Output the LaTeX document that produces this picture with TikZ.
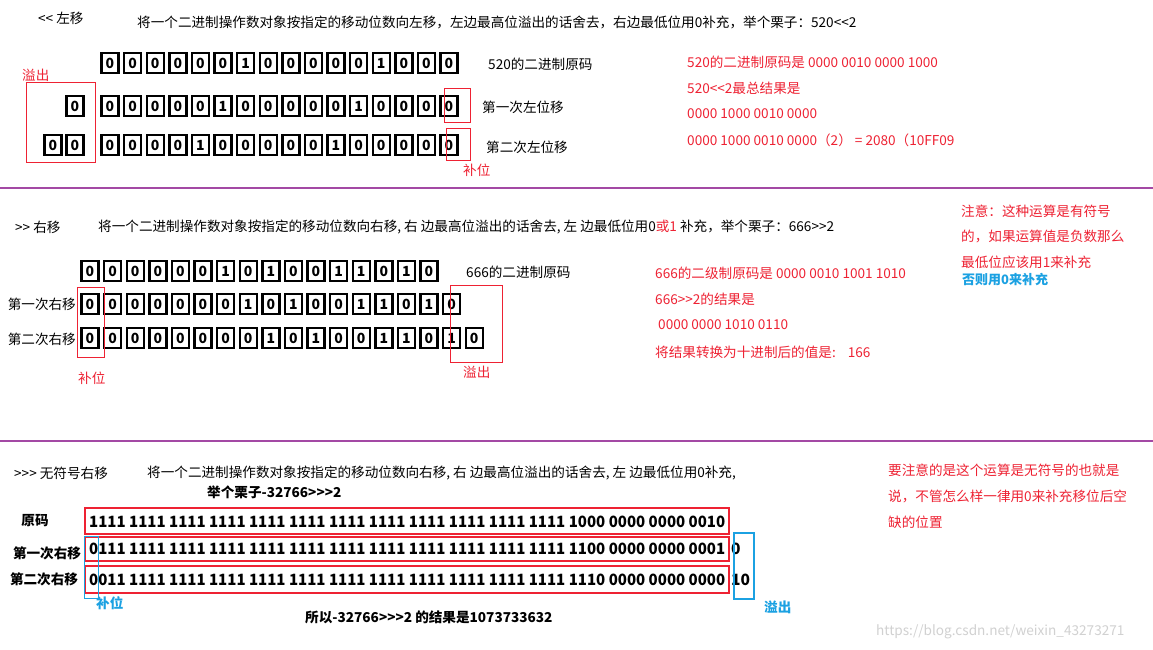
\documentclass[tikz,border=0pt]{standalone}
\usepackage{fontspec}
\setmainfont{Noto Sans CJK SC}
\definecolor{rd}{HTML}{EE2233}
\definecolor{bl}{HTML}{1BA1E2}
\definecolor{pu}{HTML}{A349A4}
\begin{document}
\begin{tikzpicture}[x=1pt,y=-1pt,
  every node/.style={inner sep=0pt,font=\fontsize{13.6}{15}\selectfont},
  bit/.style={draw,line width=2.4pt,minimum width=17pt,minimum height=20pt,font=\fontsize{14}{15}\selectfont\bfseries},
  lab/.style={anchor=west},
  rlab/.style={anchor=west,text=rd},
  rbox/.style={draw=rd,line width=0.8pt},
  bbox/.style={draw=rd,line width=2.2pt},
  sep/.style={draw=pu,line width=2pt}]
\useasboundingbox (0,0) rectangle (1153,650);
\fill[white] (0,0) rectangle (1153,650);
% ---------- section 1
\node[lab] (h1) at (38,18) {<{}< 左移};
\node[lab] (d1) at (137,22) {将一个二进制操作数对象按指定的移动位数向左移，左边最高位溢出的话舍去，右边最低位用0补充，举个栗子：520<{}<2};
\foreach \b [count=\i] in {0,0,0,0,0,0,1,0,0,0,0,0,1,0,0,0}
  \node[bit] (a\i) at ({110+(\i-1)*22.6},63) {\b};
\foreach \b [count=\i] in {0,0,0,0,0,1,0,0,0,0,0,1,0,0,0,0}
  \node[bit] (b\i) at ({110+(\i-1)*22.6},106) {\b};
\node[bit] (bo1) at (75,106) {0};
\foreach \b [count=\i] in {0,0,0,0,1,0,0,0,0,0,1,0,0,0,0,0}
  \node[bit] (c\i) at ({110+(\i-1)*22.6},145) {\b};
\node[bit] (co1) at (53,145) {0};
\node[bit] (co2) at (75,145) {0};
\node[lab] (t1) at (488,64) {520的二进制原码};
\node[lab] (t2) at (482,107) {第一次左位移};
\node[lab] (t3) at (486,147) {第二次左位移};
\draw[rbox] (26,82) rectangle (95,162);
\node[rlab] (o1) at (22,75) {溢出};
\draw[rbox] (444,88) rectangle (470,122);
\draw[rbox] (446,128) rectangle (470,160);
\node[rlab] (p1) at (463,170) {补位};
\node[rlab] (r11) at (687,62) {520的二进制原码是 0000 0010 0000 1000};
\node[rlab] (r12) at (687,88) {520<{}<2最总结果是};
\node[rlab] (r13) at (687,114) {0000 1000 0010 0000};
\node[rlab] (r14) at (687,140) {0000 1000 0010 0000（2） = 2080（10FF09};
\draw[sep] (0,188) -- (1153,188);
% ---------- section 2
\node[lab] (h2) at (15,227) {>{}> 右移};
\node[lab] (d2) at (98,227) {将一个二进制操作数对象按指定的移动位数向右移, 右 边最高位溢出的话舍去, 左 边最低位用0\textcolor{rd}{或1} 补充，举个栗子：666>{}>2};
\foreach \b [count=\i] in {0,0,0,0,0,0,1,0,1,0,0,1,1,0,1,0}
  \node[bit] (e\i) at ({90+(\i-1)*22.6},271) {\b};
\foreach \b [count=\i] in {0,0,0,0,0,0,0,1,0,1,0,0,1,1,0,1,0}
  \node[bit] (f\i) at ({90+(\i-1)*22.6},304) {\b};
\foreach \b [count=\i] in {0,0,0,0,0,0,0,0,1,0,1,0,0,1,1,0,1,0}
  \node[bit] (g\i) at ({90+(\i-1)*22.6},338) {\b};
\node[lab] (t4) at (466,272) {666的二进制原码};
\node[anchor=east] (t5) at (76,304) {第一次右移};
\node[anchor=east] (t6) at (76,339) {第二次右移};
\draw[rbox] (77,287) rectangle (104,357);
\draw[rbox] (450,285) rectangle (502,362);
\node[rlab] (p2) at (78,378) {补位};
\node[rlab] (o2) at (463,372) {溢出};
\node[rlab] (r21) at (655,273) {666的二级制原码是 0000 0010 1001 1010};
\node[rlab] (r22) at (655,299) {666>{}>2的结果是};
\node[rlab] (r23) at (658,325) {0000 0000 1010 0110};
\node[rlab] (r24) at (655,352) {将结果转换为十进制后的值是:\hspace{12pt}166};
\node[rlab] (n1) at (961,211) {注意：这种运算是有符号};
\node[rlab] (n2) at (961,236) {的，如果运算值是负数那么};
\node[rlab] (n3) at (961,262) {最低位应该用1来补充};
\node[lab,text=bl,font=\fontsize{13}{15}\selectfont\bfseries] (n4) at (962,280) {否则用0来补充};
\draw[sep] (0,441) -- (1153,441);
% ---------- section 3
\node[lab] (h3) at (14,473) {>{}>{}> 无符号右移};
\node[lab] (d3) at (147,473) {将一个二进制操作数对象按指定的移动位数向右移, 右 边最高位溢出的话舍去, 左 边最低位用0补充,};
\node[lab,font=\fontsize{13.6}{15}\selectfont\bfseries] (ex) at (207,492) {举个栗子-32766>{}>{}>2};
\node[font=\fontsize{13.6}{15}\selectfont\bfseries] (l1) at (35,521) {原码};
\node[font=\fontsize{13.6}{15}\selectfont\bfseries] (l2) at (47,553) {第一次右移};
\node[font=\fontsize{13.6}{15}\selectfont\bfseries] (l3) at (44,579) {第二次右移};
\draw[bbox] (85,508) rectangle (729,534);
\draw[bbox] (85,537) rectangle (729,561);
\draw[bbox] (85,566) rectangle (729,593);
\node[lab] (s1) at (89,522) {\resizebox{636pt}{11.5pt}{\bfseries 1111 1111 1111 1111 1111 1111 1111 1111 1111 1111 1111 1111 1000 0000 0000 0010}};
\node[lab] (s2) at (89,549) {\resizebox{636pt}{11.5pt}{\bfseries 0111 1111 1111 1111 1111 1111 1111 1111 1111 1111 1111 1111 1100 0000 0000 0001}};
\node[lab] (s3) at (89,580) {\resizebox{636pt}{11.5pt}{\bfseries 0011 1111 1111 1111 1111 1111 1111 1111 1111 1111 1111 1111 1110 0000 0000 0000}};
\node[lab] (s4) at (731,549) {\resizebox{!}{11.5pt}{\bfseries 0}};
\node[lab] (s5) at (731,580) {\resizebox{!}{11.5pt}{\bfseries 10}};
\draw[draw=bl,line width=0.8pt] (84,536) rectangle (98,598);
\draw[draw=bl,line width=2.5pt] (734,533) rectangle (754,599);
\node[lab,text=bl,font=\fontsize{13.6}{15}\selectfont\bfseries] (p3) at (96,603) {补位};
\node[lab,text=bl,font=\fontsize{13.6}{15}\selectfont\bfseries] (o3) at (764,607) {溢出};
\node[lab,font=\fontsize{13.6}{15}\selectfont\bfseries] (res) at (305,617) {所以-32766>{}>{}>2 的结果是1073733632};
\node[rlab] (m1) at (888,470) {要注意的是这个运算是无符号的也就是};
\node[rlab] (m2) at (888,496) {说，不管怎么样一律用0来补充移位后空};
\begin{scope}
\clip (880,512) rectangle (1153,530);
\node[rlab] (m3) at (888,522) {缺的位置};
\end{scope}
\node[lab,text=black!18] (wm) at (876,632) {https://blog.csdn.net/weixin\_43273271};
\end{tikzpicture}
\end{document}
